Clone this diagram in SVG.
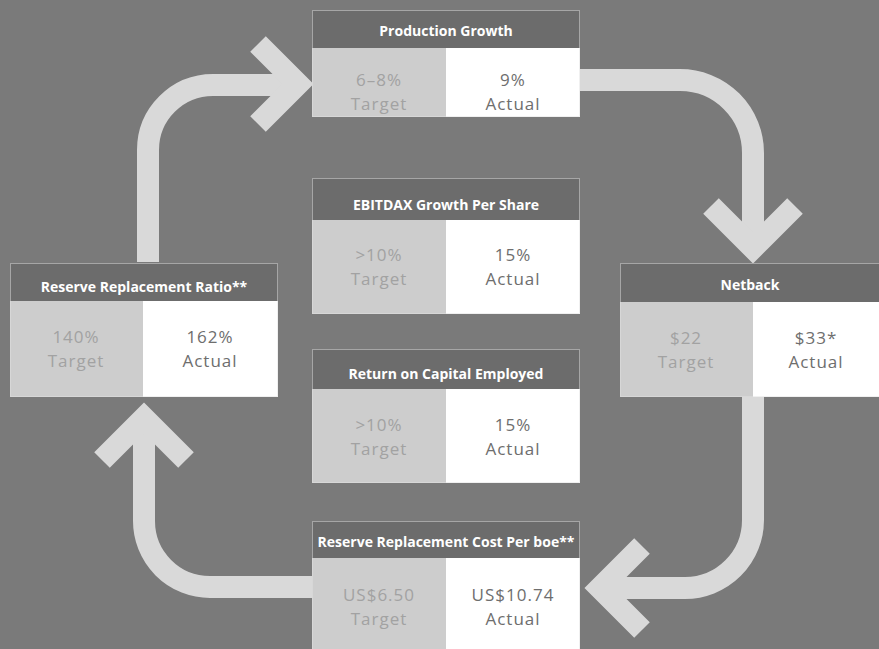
<svg xmlns="http://www.w3.org/2000/svg" width="879" height="649" viewBox="0 0 879 649">
<style>
.bg{fill:#7a7a7a}
.hdr{fill:#6c6c6c}
.frame{fill:none;stroke:#e0e0e0;stroke-width:1;stroke-dasharray:1 1}
.tgt{fill:#cdcdcd}
.act{fill:#ffffff}
.ht{font-family:"Open Sans",sans-serif;font-weight:bold;font-size:14px;fill:#ffffff;text-anchor:middle}
.tt{font-family:"Open Sans",sans-serif;font-size:17px;letter-spacing:1px;fill:#a2a2a2;text-anchor:middle}
.at{font-family:"Open Sans",sans-serif;font-size:17px;letter-spacing:1px;fill:#6e6e6e;text-anchor:middle}
.band{fill:none;stroke:#d9d9d9;stroke-width:22}
.head{fill:none;stroke:#d9d9d9;stroke-width:22;stroke-linejoin:miter;stroke-miterlimit:4}
</style>
<rect class="bg" x="0" y="0" width="879" height="649"/>
<g id="connectors">
  <path class="band" d="M148,262 V150 A65,65 0 0 1 213,85 H300"/>
  <polyline class="head" points="258,44 298,84 258,124"/>
  <path class="band" d="M580,80 H680 A73,73 0 0 1 753,153 V246"/>
  <polyline class="head" points="711,206 753,248 795,206"/>
  <path class="band" d="M753,397 V520 A68,68 0 0 1 685,588 H602"/>
  <polyline class="head" points="642,546 600,588 642,630"/>
  <path class="band" d="M312,587 H210 A66,66 0 0 1 144,521 V420"/>
  <polyline class="head" points="102,460 144,418 186,460"/>
</g>
<g id="production-growth">
  <rect class="hdr" x="312" y="10" width="268" height="38"/>
  <rect class="tgt" x="312" y="48" width="134" height="69"/>
  <rect class="act" x="446" y="48" width="134" height="69"/>
  <rect class="frame" x="312.5" y="10.5" width="267" height="106"/>
  <text class="ht" x="446" y="36">Production Growth</text>
  <text class="tt" x="379" y="86">6–8%</text>
  <text class="tt" x="379" y="110">Target</text>
  <text class="at" x="513" y="86">9%</text>
  <text class="at" x="513" y="110">Actual</text>
</g>
<g id="ebitdax-growth">
  <rect class="hdr" x="312" y="178" width="268" height="42"/>
  <rect class="tgt" x="312" y="220" width="134" height="94"/>
  <rect class="act" x="446" y="220" width="134" height="94"/>
  <rect class="frame" x="312.5" y="178.5" width="267" height="135"/>
  <text class="ht" x="446" y="210">EBITDAX Growth Per Share</text>
  <text class="tt" x="379" y="261">&gt;10%</text>
  <text class="tt" x="379" y="285">Target</text>
  <text class="at" x="513" y="261">15%</text>
  <text class="at" x="513" y="285">Actual</text>
</g>
<g id="return-on-capital">
  <rect class="hdr" x="312" y="349" width="268" height="40"/>
  <rect class="tgt" x="312" y="389" width="134" height="94"/>
  <rect class="act" x="446" y="389" width="134" height="94"/>
  <rect class="frame" x="312.5" y="349.5" width="267" height="133"/>
  <text class="ht" x="446" y="379">Return on Capital Employed</text>
  <text class="tt" x="379" y="431">&gt;10%</text>
  <text class="tt" x="379" y="455">Target</text>
  <text class="at" x="513" y="431">15%</text>
  <text class="at" x="513" y="455">Actual</text>
</g>
<g id="reserve-replacement-cost">
  <rect class="hdr" x="312" y="521" width="268" height="37"/>
  <rect class="tgt" x="312" y="558" width="134" height="91"/>
  <rect class="act" x="446" y="558" width="134" height="91"/>
  <rect class="frame" x="312.5" y="521.5" width="267" height="128"/>
  <text class="ht" x="446" y="547">Reserve Replacement Cost Per boe**</text>
  <text class="tt" x="379" y="601">US$6.50</text>
  <text class="tt" x="379" y="625">Target</text>
  <text class="at" x="513" y="601">US$10.74</text>
  <text class="at" x="513" y="625">Actual</text>
</g>
<g id="reserve-replacement-ratio">
  <rect class="hdr" x="10" y="263" width="268" height="38"/>
  <rect class="tgt" x="10" y="301" width="133" height="96"/>
  <rect class="act" x="143" y="301" width="135" height="96"/>
  <rect class="frame" x="10.5" y="263.5" width="267" height="133"/>
  <text class="ht" x="144" y="292">Reserve Replacement Ratio**</text>
  <text class="tt" x="76" y="343">140%</text>
  <text class="tt" x="76" y="367">Target</text>
  <text class="at" x="210" y="343">162%</text>
  <text class="at" x="210" y="367">Actual</text>
</g>
<g id="netback">
  <rect class="hdr" x="620" y="263" width="259" height="39"/>
  <rect class="tgt" x="620" y="302" width="133" height="95"/>
  <rect class="act" x="753" y="302" width="126" height="95"/>
  <rect class="frame" x="620.5" y="263.5" width="259" height="133"/>
  <text class="ht" x="750" y="290">Netback</text>
  <text class="tt" x="686" y="344">$22</text>
  <text class="tt" x="686" y="368">Target</text>
  <text class="at" x="816" y="344">$33*</text>
  <text class="at" x="816" y="368">Actual</text>
</g>
</svg>
